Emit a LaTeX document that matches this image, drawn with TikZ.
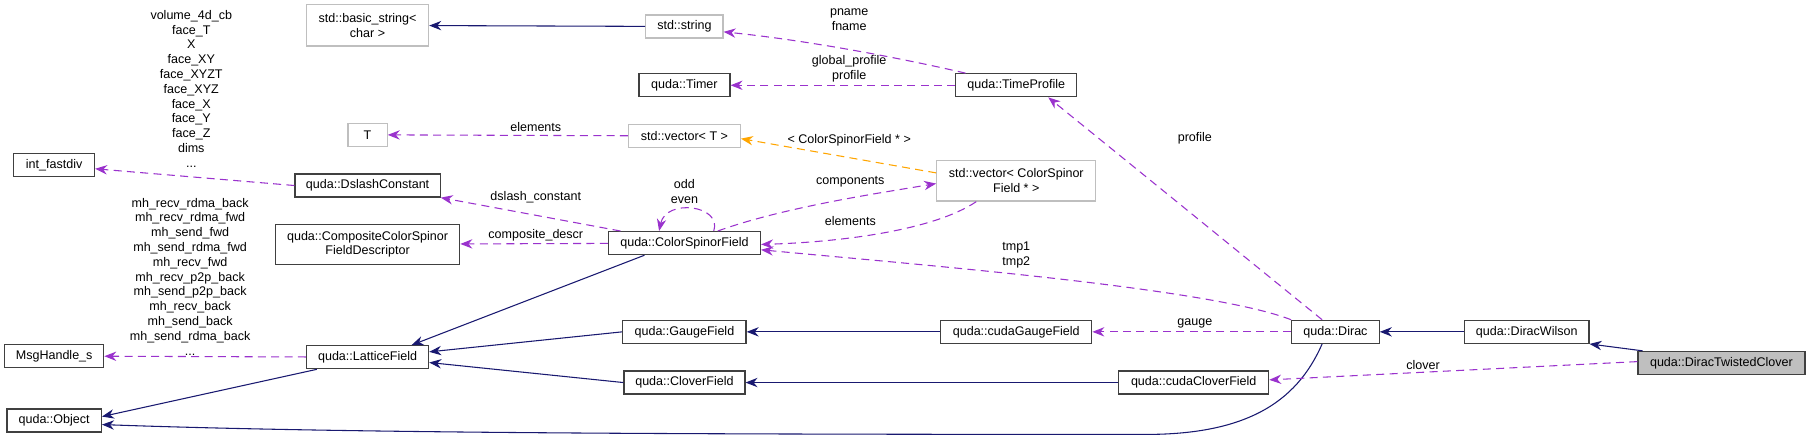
\documentclass[tikz,border=0pt]{standalone}
\usepackage{fontspec}
\setmainfont{Liberation Sans}
\usetikzlibrary{arrows.meta, positioning}

\definecolor{inhcol}{HTML}{191970}
\definecolor{memcol}{HTML}{9A32CD}
\definecolor{tplcol}{HTML}{FFA500}
\definecolor{extcol}{HTML}{BFBFBF}

\begin{document}
\begin{tikzpicture}[
        x=0.864pt, y=-0.864pt,
        every node/.style={font=\fontsize{9.4}{11.1}\selectfont, inner sep=1pt},
        cls/.style={rectangle, draw=black!75, line width=0.9pt, minimum height=20*0.864pt, align=center},
        ext/.style={cls, draw=extcol},
        cur/.style={cls, fill=extcol},
        lbl/.style={align=center},
        inh/.style={-{Stealth[length=9pt, width=7pt]}, inhcol, line width=0.8pt},
        mem/.style={-{Stealth[length=9pt, width=7pt]}, memcol, line width=0.8pt, dash pattern=on 6pt off 4pt},
        tpl/.style={-{Stealth[length=9pt, width=7pt]}, tplcol, line width=0.8pt, dash pattern=on 6pt off 4pt}
    ]
        \useasboundingbox (0,0) rectangle (1570,387);

        % Classes
        \node[ext, minimum width=106*0.864pt, minimum height=36*0.864pt] (bstr) at (319,22) {std::basic\_string<\\char >};
        \node[ext, minimum width=67*0.864pt] (str) at (594,23) {std::string};
        \node[cls, minimum width=79*0.864pt] (timer) at (594,74) {quda::Timer};
        \node[cls, minimum width=105*0.864pt] (tprof) at (882,74) {quda::TimeProfile};
        \node[ext, minimum width=34*0.864pt] (tparam) at (319,117) {T};
        \node[ext, minimum width=97*0.864pt] (vect) at (594,118) {std::vector< T >};
        \node[cls, minimum width=70*0.864pt] (fdiv) at (47,143) {int\_fastdiv};
        \node[cls, minimum width=126*0.864pt] (dslash) at (319,161) {quda::DslashConstant};
        \node[ext, minimum width=138*0.864pt, minimum height=35*0.864pt] (vcsf) at (882,157) {std::vector< ColorSpinor\\Field * >};
        \node[cls, minimum width=160*0.864pt, minimum height=35*0.864pt] (cdesc) at (319,212) {quda::CompositeColorSpinor\\FieldDescriptor};
        \node[cls, minimum width=132*0.864pt] (csf) at (594,211) {quda::ColorSpinorField};
        \node[cls, minimum width=86*0.864pt] (msg) at (47,309) {MsgHandle\_s};
        \node[cls, minimum width=106*0.864pt] (lat) at (319,310) {quda::LatticeField};
        \node[cls, minimum width=82*0.864pt] (obj) at (47,365) {quda::Object};
        \node[cls, minimum width=107*0.864pt] (gfield) at (594,288) {quda::GaugeField};
        \node[cls, minimum width=105*0.864pt] (cfield) at (594,332) {quda::CloverField};
        \node[cls, minimum width=131*0.864pt] (cgauge) at (882,288) {quda::cudaGaugeField};
        \node[cls, minimum width=130*0.864pt] (cclover) at (1036,332) {quda::cudaCloverField};
        \node[cls, minimum width=76*0.864pt] (dirac) at (1159,288) {quda::Dirac};
        \node[cls, minimum width=108*0.864pt] (wilson) at (1325,288) {quda::DiracWilson};
        \node[cur, minimum width=145*0.864pt] (twist) at (1494,315) {quda::DiracTwistedClover};

        % Inheritance
        \draw[inh] (str) -- (bstr);
        \draw[inh] ([xshift=-30pt]csf.south) -- ([xshift=33pt]lat.north);
        \draw[inh] (gfield.west) -- ([yshift=4pt]lat.east);
        \draw[inh] (cfield.west) -- ([yshift=-4pt]lat.east);
        \draw[inh] ([xshift=-38pt]lat.south) -- ([yshift=3pt]obj.east);
        \draw[inh] (cgauge) -- (gfield);
        \draw[inh] (cclover) -- (cfield);
        \draw[inh] (wilson) -- (dirac);
        \draw[inh] ([xshift=4pt]twist.north west) -- (wilson.south east);
        \draw[inh] ([xshift=-10pt]dirac.south) .. controls (1125,350) and (1080,378) .. (990,377)
            .. controls (600,377) and (300,376) .. ([yshift=-3pt]obj.east);

        % Members
        \draw[mem] ([xshift=-38pt]tprof.north) .. controls (780,50) and (700,35) .. ([yshift=-4pt]str.east);
        \draw[mem] (tprof) -- (timer);
        \draw[mem] (vect) -- (tparam);
        \draw[mem] (dslash.west) -- ([yshift=-3pt]fdiv.east);
        \draw[mem] (lat) -- (msg);
        \draw[mem] ([xshift=-48pt]csf.north) -- (dslash.south east);
        \draw[mem] (csf) -- (cdesc);
        \draw[mem] ([xshift=22pt]csf.north) .. controls (627,178) and (578,172) .. ([xshift=-19pt]csf.north);
        \draw[mem] ([xshift=25pt]csf.north) .. controls (680,180) and (760,168) .. ([yshift=-2pt]vcsf.west);
        \draw[mem] ([xshift=-30pt]vcsf.south) .. controls (810,200) and (730,210) .. ([yshift=-1pt]csf.east);
        \draw[mem] (dirac.north west) .. controls (1050,250) and (800,230) .. ([yshift=-5pt]csf.east);
        \draw[mem] ([xshift=-10pt]dirac.north) -- ([xshift=24pt]tprof.south);
        \draw[mem] (dirac) -- (cgauge);
        \draw[mem] ([yshift=1pt]twist.west) -- ([yshift=2pt]cclover.east);
        \draw[tpl] ([yshift=6pt]vcsf.west) -- ([yshift=-2pt]vect.east);

        % Labels
        \node[lbl] (lblprof) at (737,17) {pname\\fname};
        \node[lbl] (lblgprof) at (737,60) {global\_profile\\profile};
        \node[lbl] (lblelt) at (465,110) {elements};
        \node[lbl] (lbltpl) at (737,122) {< ColorSpinorField * >};
        \node[lbl] (lblfdiv) at (166,77) {volume\_4d\_cb\\face\_T\\X\\face\_XY\\face\_XYZT\\face\_XYZ\\face\_X\\face\_Y\\face\_Z\\dims\\...};
        \node[lbl] (lblmsg) at (165,240) {mh\_recv\_rdma\_back\\mh\_recv\_rdma\_fwd\\mh\_send\_fwd\\mh\_send\_rdma\_fwd\\mh\_recv\_fwd\\mh\_recv\_p2p\_back\\mh\_send\_p2p\_back\\mh\_recv\_back\\mh\_send\_back\\mh\_send\_rdma\_back\\...};
        \node[lbl] (lbldsl) at (465,171) {dslash\_constant};
        \node[lbl] (lblcomp) at (465,204) {composite\_descr};
        \node[lbl] (lbloe) at (594,166) {odd\\even};
        \node[lbl] (lblcomps) at (738,158) {components};
        \node[lbl] (lblelts) at (738,192) {elements};
        \node[lbl] (lbltmp) at (882,221) {tmp1\\tmp2};
        \node[lbl] (lblprofile) at (1037,120) {profile};
        \node[lbl] (lblgauge) at (1037,281) {gauge};
        \node[lbl] (lblclover) at (1235,317) {clover};
    \end{tikzpicture}
\end{document}
